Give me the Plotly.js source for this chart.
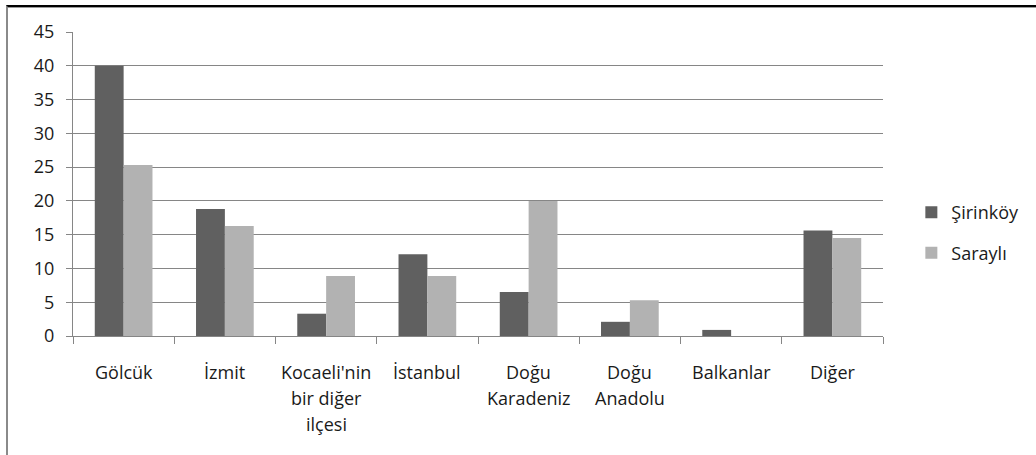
<!DOCTYPE html>
<html>
<head>
<meta charset="utf-8">
<script src="https://cdn.plot.ly/plotly-3.0.1.min.js"></script>
<style>
  html, body { margin: 0; padding: 0; background: #fff; }
  #chart { position: absolute; left: 0; top: 0; width: 1036px; height: 455px; }
  #frame { position: absolute; left: 6px; top: 5px; width: 1030px; height: 450px;
           border-top: 2px solid #000; border-left: 2px solid #8a8a8a;
           box-shadow: inset 0 1px 0 #9a9a9a; pointer-events: none; }
</style>
</head>
<body>
<div id="chart"></div>
<div id="frame"></div>
<script>
const categories = ["Gölcük", "İzmit", "Kocaeli'nin bir diğer ilçesi", "İstanbul", "Doğu Karadeniz", "Doğu Anadolu", "Balkanlar", "Diğer"];
const tickLabelLines = [["Gölcük"], ["İzmit"], ["Kocaeli'nin", "bir diğer", "ilçesi"], ["İstanbul"], ["Doğu", "Karadeniz"], ["Doğu", "Anadolu"], ["Balkanlar"], ["Diğer"]];
const sirinkoy = [40, 18.8, 3.3, 12.1, 6.5, 2.1, 0.9, 15.6];
const sarayli = [25.3, 16.3, 8.9, 8.9, 20.0, 5.3, 0, 14.5];
const seriesNames = ["Şirinköy", "Saraylı"];

const FONT = "'Open Sans', 'DejaVu Sans', sans-serif";
const TXT = "#1a1a1a";

const traces = [
  { type: "bar", name: seriesNames[0], x: categories, y: sirinkoy,
    marker: { color: "#606060" }, legendgroup: "a", hoverinfo: "y" },
  { type: "bar", name: seriesNames[1], x: categories, y: sarayli,
    marker: { color: "#b2b2b2" }, legendgroup: "b", hoverinfo: "y" }
];

const annotations = [];
tickLabelLines.forEach((lines, ci) => {
  lines.forEach((line, li) => {
    annotations.push({
      x: categories[ci], xref: "x", y: 0, yref: "paper",
      text: line, showarrow: false, xanchor: "center", yanchor: "middle",
      yshift: -(36 + 26 * li),
      font: { family: FONT, size: 18, color: TXT }
    });
  });
});

const layout = {
  width: 1036, height: 455,
  margin: { l: 73, r: 147, t: 32, b: 119, pad: 0 },
  paper_bgcolor: "#fff", plot_bgcolor: "#fff",
  barmode: "group", bargap: 0.43, bargroupgap: 0,
  showlegend: true,
  legend: {
    x: 1.035, xanchor: "left", y: 0.34, yanchor: "middle",
    traceorder: "grouped", tracegroupgap: 14,
    font: { family: FONT, size: 18, color: TXT },
    bgcolor: "rgba(0,0,0,0)", itemwidth: 30
  },
  xaxis: {
    type: "category", showticklabels: false,
    ticks: "outside", tickson: "boundaries", ticklen: 7, tickcolor: "#868686", tickwidth: 1,
    showline: true, linecolor: "#868686", linewidth: 1,
    showgrid: false, zeroline: false, fixedrange: true
  },
  yaxis: {
    range: [0, 45], dtick: 5, tick0: 0,
    ticks: "outside", ticklen: 6, tickcolor: "#868686", tickwidth: 1,
    showline: true, linecolor: "#868686", linewidth: 1,
    showgrid: true, gridcolor: "#868686", gridwidth: 1,
    zeroline: false, ticklabelstandoff: 8,
    tickfont: { family: FONT, size: 18, color: TXT }, fixedrange: true
  },
  annotations: annotations
};

Plotly.newPlot("chart", traces, layout, { displayModeBar: false, staticPlot: true });
</script>
</body>
</html>
